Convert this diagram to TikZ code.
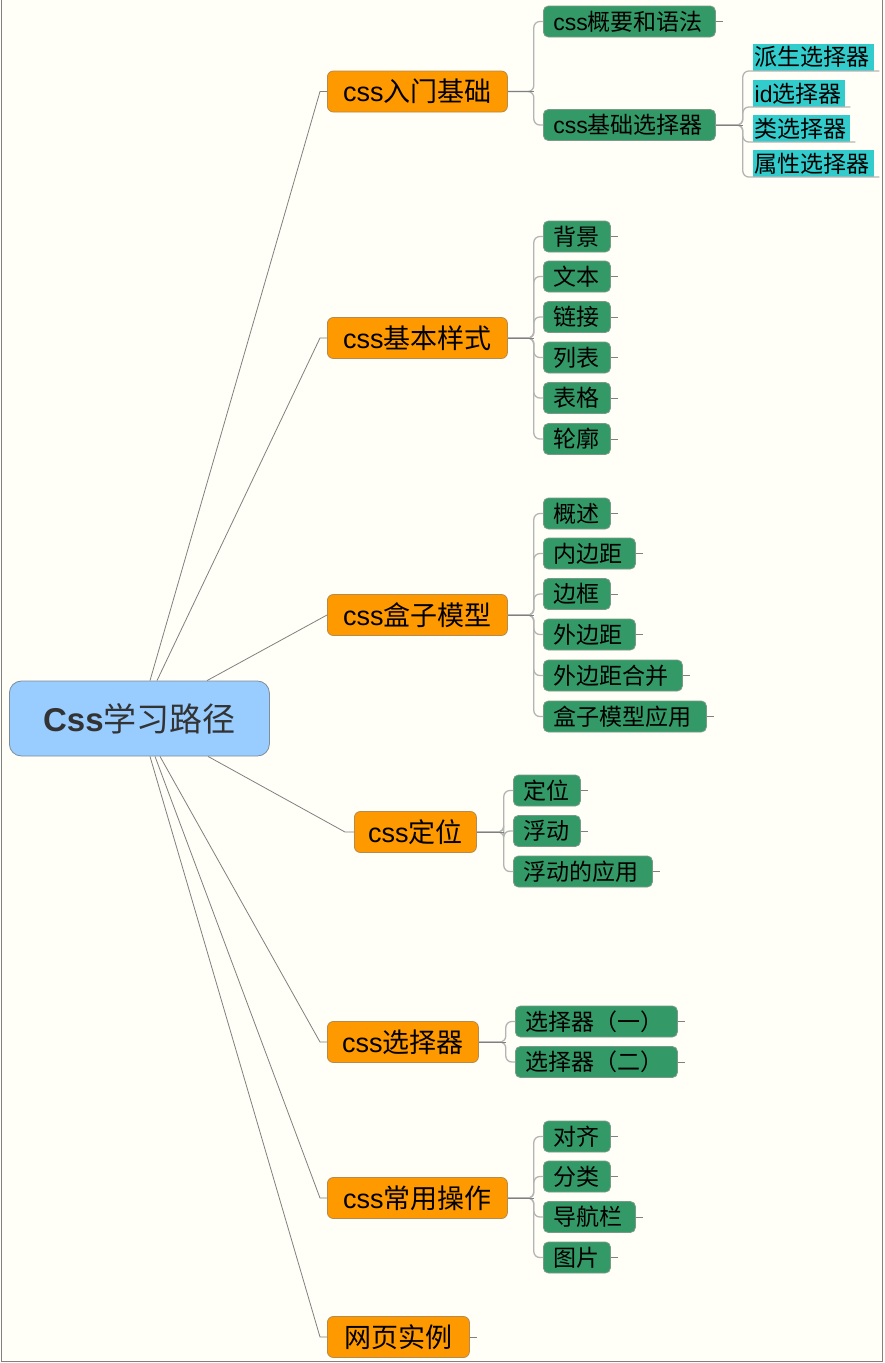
\documentclass[tikz,border=0pt]{standalone}
\usepackage{fontspec}
\setmainfont{Liberation Sans}
\newfontfamily\cjk{Noto Sans CJK SC}
\newcommand\zh[1]{{\cjk #1}}
\definecolor{bgc}{HTML}{FFFFF7}
\definecolor{rootfill}{HTML}{99CCFF}
\definecolor{rootdraw}{HTML}{7F8C99}
\definecolor{orfill}{HTML}{FF9900}
\definecolor{ordraw}{HTML}{B58A4C}
\definecolor{grfill}{HTML}{339966}
\definecolor{grdraw}{HTML}{7A9A88}
\definecolor{cyfill}{HTML}{33CCCC}
\definecolor{linec}{HTML}{808080}
\definecolor{brc}{HTML}{B4B4B4}
\tikzset{
  rootbox/.style={draw=rootdraw, fill=rootfill, rounded corners=12pt, line width=0.8pt,
    minimum height=75pt, anchor=west, inner sep=0pt, text=black!80,
    font=\fontsize{33}{36}\selectfont\bfseries},
  orbox/.style={draw=ordraw, fill=orfill, rounded corners=6pt, line width=0.8pt,
    minimum height=41pt, anchor=west, inner sep=0pt, font=\fontsize{27}{30}\selectfont},
  grbox/.style={draw=grdraw, fill=grfill, rounded corners=5pt, line width=0.8pt,
    minimum height=31pt, anchor=west, inner xsep=10pt, inner ysep=0pt,
    text width=#1, align=left, font=\fontsize{23}{25}\selectfont},
  cybox/.style={fill=cyfill, minimum height=27pt, anchor=south west, inner xsep=1.5pt, inner ysep=0pt,
    text width=#1, align=left, font=\fontsize{23}{25}\selectfont},
  conn/.style={draw=linec, line width=0.8pt},
  brk/.style={draw=brc, line width=1.3pt, rounded corners=6pt},
  stub/.style={draw=linec, line width=0.8pt},
}
\begin{document}
\begin{tikzpicture}[x=1pt,y=-1pt]
\useasboundingbox (0,0) rectangle (884,1363);
\fill[bgc] (0,0) rectangle (884,1363);
\draw[linec, line width=1pt] (1,0) -- (1,1361.5) -- (882.5,1361.5) -- (882.5,0);

% root
\node[rootbox, minimum width=260pt] (root) at (9,718.5) {Css\zh{\mdseries 学习路径}};

% orange nodes
\node[orbox, minimum width=180pt] (o1) at (327,91.5) {css\zh{入门基础}};
\node[orbox, minimum width=180pt] (o2) at (327,338) {css\zh{基本样式}};
\node[orbox, minimum width=180pt] (o3) at (327,615) {css\zh{盒子模型}};
\node[orbox, minimum width=122pt] (o4) at (354,832) {css\zh{定位}};
\node[orbox, minimum width=151pt] (o5) at (327,1042) {css\zh{选择器}};
\node[orbox, minimum width=180pt] (o6) at (327,1198) {css\zh{常用操作}};
\node[orbox, minimum width=142pt] (o7) at (327,1337) {\zh{网页实例}};

% root connectors
\draw[conn] ([xshift=141pt]root.north west) -- ([xshift=-7pt]o1.west) -- (o1.west);
\draw[conn] ([xshift=148pt]root.north west) -- ([xshift=-7pt]o2.west) -- (o2.west);
\draw[conn] ([xshift=198pt]root.north west) -- (o3.west);
\draw[conn] ([xshift=199pt]root.south west) -- ([xshift=-9pt]o4.west) -- (o4.west);
\draw[conn] ([xshift=151pt]root.south west) -- ([xshift=-7pt]o5.west) -- (o5.west);
\draw[conn] ([xshift=146pt]root.south west) -- ([xshift=-7pt]o6.west) -- (o6.west);
\draw[conn] ([xshift=141pt]root.south west) -- ([xshift=-7pt]o7.west) -- (o7.west);

% branch 1
\node[grbox=152pt] (g11) at (543,21.5) {css\zh{概要和语法}};
\node[grbox=152pt] (g12) at (543,125) {css\zh{基础选择器}};
\foreach \g in {g11,g12} \draw[brk] (o1.east) -- ++(26,0) |- (\g.west);
\draw[conn] (o1.east) -- ++(26,0);

\node[cybox=118pt] (c1) at (753,71) {\zh{派生选择器}};
\node[cybox=89pt] (c2) at (753,107) {id\zh{选择器}};
\node[cybox=94pt] (c3) at (753,142) {\zh{类选择器}};
\node[cybox=118pt] (c4) at (753,177) {\zh{属性选择器}};
\foreach \c in {c1,c2,c3,c4} \draw[brk] (g12.east) -- ++(27,0) |- ([xshift=5pt]\c.south east);
\draw[conn] (g12.east) -- ++(27,0);
\draw[stub] (g11.east) -- ++(7,0);

% branch 2
\node[grbox=47pt] (g21) at (543,236.5) {\zh{背景}};
\node[grbox=47pt] (g22) at (543,276.5) {\zh{文本}};
\node[grbox=47pt] (g23) at (543,317) {\zh{链接}};
\node[grbox=47pt] (g24) at (543,357.5) {\zh{列表}};
\node[grbox=47pt] (g25) at (543,398) {\zh{表格}};
\node[grbox=47pt] (g26) at (543,439) {\zh{轮廓}};
\foreach \g in {g21,g22,g23,g24,g25,g26} {
  \draw[brk] (o2.east) -- ++(26,0) |- (\g.west);
  \draw[stub] (\g.east) -- ++(7,0);
}
\draw[conn] (o2.east) -- ++(26,0);

% branch 3
\node[grbox=47pt] (g31) at (543,513.5) {\zh{概述}};
\node[grbox=72pt] (g32) at (543,553.5) {\zh{内边距}};
\node[grbox=47pt] (g33) at (543,594) {\zh{边框}};
\node[grbox=72pt] (g34) at (543,634.5) {\zh{外边距}};
\node[grbox=119pt] (g35) at (543,675.5) {\zh{外边距合并}};
\node[grbox=143pt] (g36) at (543,716.5) {\zh{盒子模型应用}};
\foreach \g in {g31,g32,g33,g34,g35,g36} {
  \draw[brk] (o3.east) -- ++(26,0) |- (\g.west);
  \draw[stub] (\g.east) -- ++(7,0);
}
\draw[conn] (o3.east) -- ++(26,0);

% branch 4
\node[grbox=47pt] (g41) at (513,790.5) {\zh{定位}};
\node[grbox=47pt] (g42) at (513,831) {\zh{浮动}};
\node[grbox=119pt] (g43) at (513,871.5) {\zh{浮动的应用}};
\foreach \g in {g41,g42,g43} {
  \draw[brk] (o4.east) -- ++(27,0) |- (\g.west);
  \draw[stub] (\g.east) -- ++(7,0);
}
\draw[conn] (o4.east) -- ++(27,0);

% branch 5
\node[grbox=142pt] (g51) at (515,1021.5) {\zh{选择器（一）}};
\node[grbox=142pt] (g52) at (515,1062) {\zh{选择器（二）}};
\foreach \g in {g51,g52} {
  \draw[brk] (o5.east) -- ++(27,0) |- (\g.west);
  \draw[stub] (\g.east) -- ++(7,0);
}
\draw[conn] (o5.east) -- ++(27,0);

% branch 6
\node[grbox=47pt] (g61) at (543,1136.5) {\zh{对齐}};
\node[grbox=47pt] (g62) at (543,1176.5) {\zh{分类}};
\node[grbox=72pt] (g63) at (543,1217) {\zh{导航栏}};
\node[grbox=47pt] (g64) at (543,1257.5) {\zh{图片}};
\foreach \g in {g61,g62,g63,g64} {
  \draw[brk] (o6.east) -- ++(26,0) |- (\g.west);
  \draw[stub] (\g.east) -- ++(7,0);
}
\draw[conn] (o6.east) -- ++(26,0);

% branch 7
\draw[stub] (o7.east) -- ++(7,0);
\end{tikzpicture}
\end{document}
